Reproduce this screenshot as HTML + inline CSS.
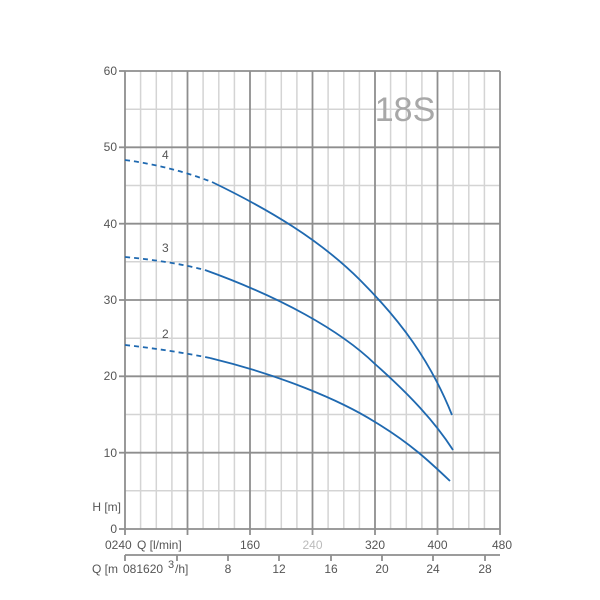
<!DOCTYPE html>
<html><head><style>body{margin:0;background:#fff}svg{display:block}</style></head><body>
<svg width="600" height="600" xmlns="http://www.w3.org/2000/svg" font-family="Liberation Sans, sans-serif">
<rect width="600" height="600" fill="#fff"/>
<g stroke="#d4d4d4" stroke-width="1.5">
<line x1="140.6" y1="71" x2="140.6" y2="529"/><line x1="156.3" y1="71" x2="156.3" y2="529"/><line x1="171.9" y1="71" x2="171.9" y2="529"/>
<line x1="203.1" y1="71" x2="203.1" y2="529"/><line x1="218.8" y1="71" x2="218.8" y2="529"/><line x1="234.4" y1="71" x2="234.4" y2="529"/>
<line x1="265.6" y1="71" x2="265.6" y2="529"/><line x1="281.3" y1="71" x2="281.3" y2="529"/><line x1="296.9" y1="71" x2="296.9" y2="529"/>
<line x1="328.1" y1="71" x2="328.1" y2="529"/><line x1="343.8" y1="71" x2="343.8" y2="529"/><line x1="359.4" y1="71" x2="359.4" y2="529"/>
<line x1="390.6" y1="71" x2="390.6" y2="529"/><line x1="406.3" y1="71" x2="406.3" y2="529"/><line x1="421.9" y1="71" x2="421.9" y2="529"/>
<line x1="453.1" y1="71" x2="453.1" y2="529"/><line x1="468.8" y1="71" x2="468.8" y2="529"/><line x1="484.4" y1="71" x2="484.4" y2="529"/>
<line x1="125" y1="109.2" x2="500" y2="109.2"/><line x1="125" y1="185.5" x2="500" y2="185.5"/><line x1="125" y1="261.8" x2="500" y2="261.8"/>
<line x1="125" y1="338.2" x2="500" y2="338.2"/><line x1="125" y1="414.5" x2="500" y2="414.5"/><line x1="125" y1="490.8" x2="500" y2="490.8"/>
</g>
<g stroke="#8e8e8e" stroke-width="1.8">
<line x1="187.5" y1="71" x2="187.5" y2="529"/><line x1="250" y1="71" x2="250" y2="529"/><line x1="312.5" y1="71" x2="312.5" y2="529"/>
<line x1="375" y1="71" x2="375" y2="529"/><line x1="437.5" y1="71" x2="437.5" y2="529"/><line x1="500" y1="71" x2="500" y2="529"/>
<line x1="125" y1="71" x2="500" y2="71"/><line x1="125" y1="147.3" x2="500" y2="147.3"/><line x1="125" y1="223.7" x2="500" y2="223.7"/>
<line x1="125" y1="300" x2="500" y2="300"/><line x1="125" y1="376.3" x2="500" y2="376.3"/><line x1="125" y1="452.7" x2="500" y2="452.7"/>
<line x1="125" y1="529" x2="500" y2="529"/><line x1="125" y1="71" x2="125" y2="535"/>
<line x1="119" y1="71" x2="125" y2="71"/><line x1="119" y1="147.3" x2="125" y2="147.3"/><line x1="119" y1="223.7" x2="125" y2="223.7"/><line x1="119" y1="300" x2="125" y2="300"/><line x1="119" y1="376.3" x2="125" y2="376.3"/><line x1="119" y1="452.7" x2="125" y2="452.7"/><line x1="119" y1="529" x2="125" y2="529"/>
<line x1="187.5" y1="529" x2="187.5" y2="535"/><line x1="250" y1="529" x2="250" y2="535"/><line x1="312.5" y1="529" x2="312.5" y2="535"/><line x1="375" y1="529" x2="375" y2="535"/><line x1="437.5" y1="529" x2="437.5" y2="535"/><line x1="500" y1="529" x2="500" y2="535"/>
<line x1="125" y1="555" x2="500" y2="555"/>
<line x1="125" y1="555" x2="125" y2="561"/><line x1="177" y1="555" x2="177" y2="561"/><line x1="228" y1="555" x2="228" y2="561"/><line x1="279" y1="555" x2="279" y2="561"/><line x1="331" y1="555" x2="331" y2="561"/><line x1="382" y1="555" x2="382" y2="561"/><line x1="433" y1="555" x2="433" y2="561"/><line x1="485" y1="555" x2="485" y2="561"/>
</g>
<g font-size="12" fill="#555" text-anchor="end">
<text x="117" y="75">60</text><text x="117" y="151">50</text><text x="117" y="228">40</text><text x="117" y="304">30</text><text x="117" y="380">20</text><text x="117" y="457">10</text><text x="117" y="533">0</text>
<text x="121" y="511">H [m]</text>
</g>
<g font-size="12" fill="#555">
<text x="105" y="549">0240</text><text x="137" y="549">Q [l/min]</text>
<text x="250" y="549" text-anchor="middle">160</text><text x="312.5" y="549" text-anchor="middle" fill="#bbb">240</text><text x="375" y="549" text-anchor="middle">320</text><text x="437.5" y="549" text-anchor="middle">400</text><text x="502" y="549" text-anchor="middle">480</text>
<text x="92" y="573">Q [m</text><text x="123" y="573">081620</text><text x="168" y="568" font-size="11">3</text><text x="175" y="573">/h]</text>
<text x="228" y="573" text-anchor="middle">8</text><text x="279" y="573" text-anchor="middle">12</text><text x="331" y="573" text-anchor="middle">16</text><text x="382" y="573" text-anchor="middle">20</text><text x="433" y="573" text-anchor="middle">24</text><text x="485" y="573" text-anchor="middle">28</text>
<text x="162" y="159">4</text><text x="162" y="252">3</text><text x="162" y="338">2</text>
</g>
<text x="405" y="121" font-size="34" fill="#a8a8a8" text-anchor="middle">18S</text>
<g fill="none" stroke="#1f69b0" stroke-width="1.8">
<path d="M125,160 Q170,166 212,182" stroke-dasharray="5,4"/>
<path d="M212,182 C270,210 320,240 360,280 C400,320 430,360 452,415"/>
<path d="M125,257 Q170,261 205,270" stroke-dasharray="5,4"/>
<path d="M205,270 C280,297 340,330 375,364 C410,395 435,422 453,450"/>
<path d="M125,345 Q170,350 210,358" stroke-dasharray="5,4"/>
<path d="M210,358 C280,375 340,400 375,422 C410,443 430,462 450,481"/>
</g>
</svg>
</body></html>
